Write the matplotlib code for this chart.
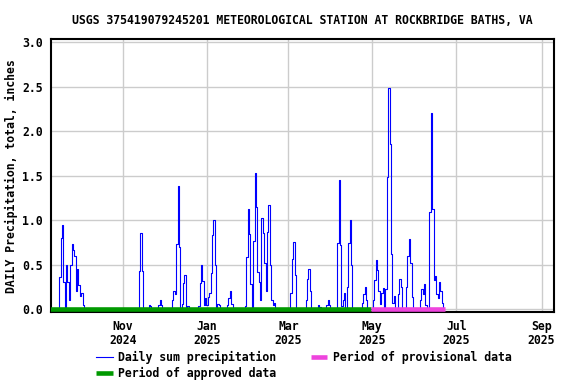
import numpy as np
import pandas as pd
import matplotlib
matplotlib.use("Agg")
import matplotlib.pyplot as plt

# storm events: first day + consecutive daily totals (inches)
event_starts = ["2024-09-16", "2024-11-13", "2024-11-20", "2024-11-27", "2024-12-07",
                "2024-12-26", "2025-01-16", "2025-01-29", "2025-03-03", "2025-03-14",
                "2025-03-23", "2025-03-29", "2025-04-06", "2025-04-24", "2025-05-02",
                "2025-06-05"]
event_values = [
    [0.36, 0.8, 0.94, 0.3, 0.0, 0.5, 0.3, 0.1, 0.5, 0.73, 0.66, 0.6, 0.2, 0.45, 0.27, 0.15, 0.18, 0.05],
    [0.43, 0.86, 0.43],
    [0.05, 0.03],
    [0.05, 0.1, 0.04],
    [0.1, 0.2, 0.17, 0.73, 1.38, 0.7, 0.0, 0.06, 0.29, 0.38, 0.0, 0.03],
    [0.03, 0.29, 0.5, 0.32, 0.05, 0.12, 0.05, 0.14, 0.18, 0.4, 0.83, 1.0, 0.5, 0.0, 0.06, 0.04],
    [0.05, 0.12, 0.2, 0.06],
    [0.03, 0.59, 1.13, 0.84, 0.28, 0.0, 0.76, 1.53, 1.15, 0.42, 0.3, 0.1, 1.02, 0.85, 0.52, 0.2,
     0.87, 1.17, 0.5, 0.1, 0.05, 0.07],
    [0.18, 0.56, 0.75, 0.38],
    [0.1, 0.34, 0.45, 0.2],
    [0.05, 0.02],
    [0.04, 0.1, 0.05],
    [0.74, 1.45, 0.72, 0.03, 0.1, 0.18, 0.0, 0.25, 0.74, 1.0, 0.5],
    [0.07, 0.17, 0.25, 0.1],
    [0.1, 0.33, 0.55, 0.44, 0.2, 0.06, 0.18, 0.24, 0.0, 0.23, 1.49, 2.49, 1.86, 0.62, 0.07, 0.15,
     0.0, 0.0, 0.17, 0.34, 0.25, 0.0, 0.0, 0.0, 0.25, 0.6, 0.79, 0.52, 0.14],
    [0.1, 0.22, 0.17, 0.28, 0.05, 0.0, 0.0, 1.09, 2.21, 1.12, 0.33, 0.37, 0.17, 0.12, 0.3, 0.2, 0.07],
]
record_start = "2024-09-09"
record_end = "2025-06-22"

approved = ("2024-09-01", "2025-04-30")
provisional = ("2025-04-30", "2025-06-23")

tick_dates = ["2024-11-01", "2025-01-01", "2025-03-01", "2025-05-01", "2025-07-01", "2025-09-01"]
tick_labels = ["Nov\n2024", "Jan\n2025", "Mar\n2025", "May\n2025", "Jul\n2025", "Sep\n2025"]

title = "USGS 375419079245201 METEOROLOGICAL STATION AT ROCKBRIDGE BATHS, VA"

# daily series, zero on days without rain
days = pd.date_range(record_start, record_end, freq="D")
precip = pd.Series(0.0, index=days)
for start, vals in zip(event_starts, event_values):
    idx = pd.date_range(start, periods=len(vals), freq="D")
    precip.loc[idx] = vals

font = dict(family="DejaVu Sans Mono", weight="bold", size=8.3)

fig = plt.figure(figsize=(5.76, 3.84), dpi=100)
ax = fig.add_axes([51 / 576, 72 / 384, 503 / 576, 272.7 / 384])

ax.plot(precip.index, precip.values, color="#0000ff", lw=0.8, drawstyle="steps-mid",
        label="Daily sum precipitation", zorder=3)
ax.plot(pd.to_datetime(list(approved)), [0, 0], color="#009900", lw=3.3,
        solid_capstyle="butt", label="Period of approved data", zorder=4)
ax.plot(pd.to_datetime(list(provisional)), [0, 0], color="#ee44dd", lw=3.3,
        solid_capstyle="butt", label="Period of provisional data", zorder=4)

ax.set_xlim(pd.Timestamp("2024-09-09 14:00"), pd.Timestamp("2025-09-10"))
ax.set_ylim(-0.034, 3.034)

ax.set_xticks(pd.to_datetime(tick_dates))
ax.set_xticklabels(tick_labels, linespacing=1.05, **font)
ax.set_yticks(np.arange(0, 3.01, 0.5))
ax.set_yticklabels([f"{v:.1f}" for v in np.arange(0, 3.01, 0.5)], **font)
ax.tick_params(axis="both", length=0)
ax.tick_params(axis="x", pad=6)
ax.tick_params(axis="y", pad=6)
ax.grid(True, color="#cccccc", lw=1.0)
ax.set_axisbelow(True)
for s in ax.spines.values():
    s.set_linewidth(1.5)

fig.text(11 / 576, 1 - 176 / 384, "DAILY Precipitation, total, inches", rotation=90,
         ha="center", va="center", **font)
fig.text(302 / 576, 1 - 20 / 384, title, ha="center", va="center", **font)

handles, labels = ax.get_legend_handles_labels()
leg = fig.legend(handles, labels, ncol=2,
                 loc="upper left", bbox_to_anchor=(96 / 576, 1 - 351 / 384),
                 frameon=False, prop=dict(family="DejaVu Sans Mono", weight="bold", size=8.3),
                 handlelength=1.45, handletextpad=0.5, columnspacing=2.95,
                 labelspacing=0.25, borderpad=0, borderaxespad=0)

fig.savefig("out.png", dpi=100)
